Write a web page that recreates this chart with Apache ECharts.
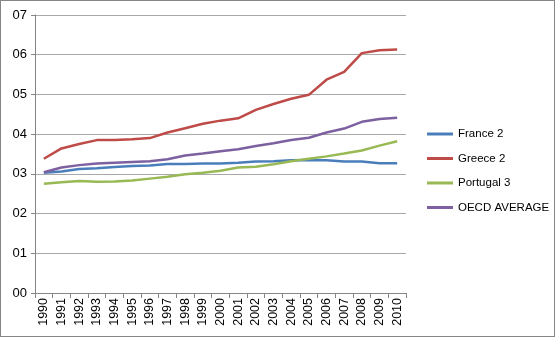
<!DOCTYPE html>
<html><head><meta charset="utf-8">
<script src="https://cdn.jsdelivr.net/npm/echarts@6/dist/echarts.min.js"></script>
<style>html,body{margin:0;padding:0;background:#fff}#c{width:553px;height:335px;border:1px solid #868686}</style>
</head><body><div id="c"></div>
<script>
const years = ['1990','1991','1992','1993','1994','1995','1996','1997','1998','1999','2000','2001','2002','2003','2004','2005','2006','2007','2008','2009','2010'];
const france = [3.03,3.06,3.12,3.14,3.17,3.20,3.21,3.25,3.25,3.26,3.26,3.28,3.31,3.32,3.34,3.35,3.34,3.31,3.31,3.27,3.27];
const greece = [3.38,3.64,3.75,3.85,3.85,3.87,3.90,4.04,4.15,4.26,4.34,4.40,4.61,4.76,4.89,4.99,5.37,5.57,6.04,6.11,6.13];
const portugal = [2.75,2.79,2.82,2.80,2.81,2.83,2.88,2.93,2.99,3.03,3.08,3.16,3.18,3.24,3.32,3.38,3.44,3.51,3.59,3.71,3.82];
const oecd = [3.04,3.16,3.22,3.26,3.28,3.30,3.32,3.37,3.46,3.51,3.57,3.62,3.70,3.77,3.85,3.91,4.04,4.14,4.31,4.38,4.41];
const names = ['France 2','Greece 2','Portugal 3','OECD AVERAGE'];
const colors = ['#4A7EBB','#BE4B48','#98B954','#7D60A0'];
const chart = echarts.init(document.getElementById('c'));
const data = [france, greece, portugal, oecd];
chart.setOption({
  animation:false,
  textStyle:{fontFamily:'Liberation Sans'},
  grid:{left:34,right:148,top:14,bottom:43},
  legend:{orient:'vertical',left:421,top:122,itemWidth:26,itemHeight:3,itemGap:12.5,icon:'rect',
    textStyle:{fontSize:11.5,color:'#000',fontFamily:'Liberation Sans'},data:names},
  xAxis:{type:'category',data:years,boundaryGap:true,
    axisLine:{lineStyle:{color:'#868686'}},
    axisTick:{show:true,length:5,lineStyle:{color:'#868686'}},
    axisLabel:{rotate:90,fontSize:12.5,color:'#000',margin:5,interval:0}},
  yAxis:{type:'value',min:0,max:7,interval:1,
    axisLine:{show:true,lineStyle:{color:'#868686'}},
    axisTick:{show:true,length:4,lineStyle:{color:'#868686'}},
    splitLine:{lineStyle:{color:'#a8a8a8'}},
    axisLabel:{fontSize:13,color:'#000',margin:8,formatter:v=>'0'+v}},
  series: names.map((n,i)=>({name:n,type:'line',data:data[i],symbol:'none',
    lineStyle:{width:2.5,color:colors[i]},itemStyle:{color:colors[i]}}))
});
</script></body></html>
